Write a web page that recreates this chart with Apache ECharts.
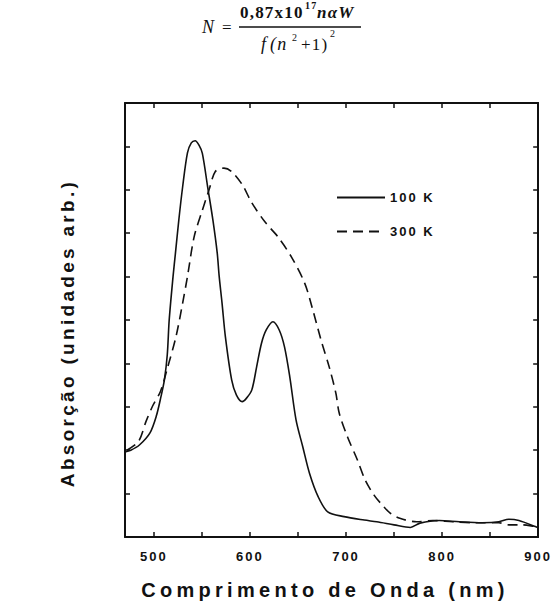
<!DOCTYPE html>
<html>
<head>
<meta charset="utf-8">
<script src="https://cdn.jsdelivr.net/npm/echarts@6.0.0/dist/echarts.min.js"></script>
<style>
  html, body { margin: 0; padding: 0; background: #fff; }
  #main { width: 552px; height: 607px; }
  /* the scanned figure uses widely spaced lettering */
  #main text { letter-spacing: 2px; }
  #main text[style*="20px"] { letter-spacing: 4.3px; }
  #main text[style*="19px"] { letter-spacing: 3.3px; }
  #main text[style*="Liberation Serif"] { letter-spacing: 1.2px; }
</style>
</head>
<body>
<div id="main"></div>
<script>
// wavelength (nm) and absorption (arb. units)
const wl100 = [470, 476, 485, 496, 502.5, 507.5, 511, 514, 516, 520, 522.5, 526, 530, 535, 539, 543, 547, 550.5, 556, 561.5, 566, 568, 571, 574.5, 581, 586, 592, 596.5, 602, 607, 612, 617, 624, 630.5, 636, 641.5, 648, 655, 662, 671, 681, 698, 719, 732, 750, 767, 777, 797, 818, 842, 859, 869.5, 880, 897, 900]
const abs100 = [1.96, 2.00, 2.12, 2.40, 2.78, 3.24, 3.62, 4.20, 5.00, 6.00, 6.54, 7.30, 8.07, 8.85, 9.08, 9.13, 9.03, 8.84, 8.07, 7.30, 6.54, 6.01, 5.39, 4.61, 3.62, 3.27, 3.12, 3.20, 3.39, 3.92, 4.46, 4.77, 4.96, 4.77, 4.38, 3.69, 2.70, 2.08, 1.47, 0.93, 0.58, 0.47, 0.39, 0.35, 0.28, 0.22, 0.32, 0.38, 0.35, 0.33, 0.35, 0.41, 0.38, 0.24, 0.21]

const wl300 = [472, 484, 492, 499, 507, 514.5, 523, 530, 535, 542, 550.5, 557.5, 564, 573, 581, 592, 602, 616, 629, 643, 657, 665.5, 674, 682.5, 689.5, 693, 701.5, 712, 720, 729, 736, 746, 756, 773.5, 790.5, 811, 835, 859, 869.5, 883, 897, 900]
const abs300 = [2.00, 2.20, 2.67, 3.03, 3.36, 3.92, 4.61, 5.39, 6.00, 6.92, 7.53, 8.00, 8.42, 8.50, 8.42, 8.12, 7.70, 7.25, 6.92, 6.46, 5.85, 5.23, 4.54, 3.92, 3.31, 2.85, 2.31, 1.77, 1.31, 0.97, 0.78, 0.55, 0.43, 0.35, 0.38, 0.35, 0.33, 0.33, 0.28, 0.28, 0.24, 0.23]

const seriesNames = ['100 K', '300 K']
const xLabels = [500, 600, 700, 800, 900]
const xTicks = [500, 550, 600, 650, 700, 750, 800, 850, 900]

const ink = '#111'
const sans = 'Liberation Sans'
const serif = 'Liberation Serif'

const pairs = (xs, ys) => xs.map((x, i) => [x, ys[i]])

const frameX = (pos, labels) => ({
  type: 'value',
  position: pos,
  min: 470,
  max: 900,
  axisLine: { show: true, onZero: false, lineStyle: { color: ink, width: 2 } },
  axisTick: { show: true, inside: true, length: 5, customValues: xTicks, lineStyle: { color: ink, width: 1.5 } },
  axisLabel: labels
    ? { customValues: xLabels, margin: 13, fontSize: 13, fontWeight: 'bold', fontFamily: sans, color: ink }
    : { show: false },
  splitLine: { show: false },
})

const frameY = pos => ({
  type: 'value',
  position: pos,
  min: 0,
  max: 10,
  interval: 1,
  axisLine: { show: true, onZero: false, lineStyle: { color: ink, width: 2 } },
  axisTick: { show: true, inside: true, length: 5, lineStyle: { color: ink, width: 1.5 } },
  axisLabel: { show: false },
  splitLine: { show: false },
})

const txt = (x, y, text, size, extra) => ({
  type: 'text',
  x, y,
  style: Object.assign({ text, fill: ink, fontSize: size, fontFamily: serif, align: 'left', verticalAlign: 'middle' }, extra),
})

const chart = echarts.init(document.getElementById('main'), null, { renderer: 'svg' })

chart.setOption({
  animation: false,
  backgroundColor: '#fff',
  grid: { left: 125, right: 9, top: 103, bottom: 70 },
  xAxis: [frameX('bottom', true), frameX('top', false)],
  yAxis: [frameY('left'), frameY('right')],
  legend: {
    data: seriesNames,
    orient: 'vertical',
    left: 331,
    top: 186,
    itemWidth: 48,
    itemHeight: 14,
    itemGap: 21,
    itemStyle: { opacity: 0 },
    selectedMode: false,
    textStyle: { fontSize: 13, fontWeight: 'bold', fontFamily: sans, color: ink },
  },
  series: [
    {
      name: seriesNames[0],
      type: 'line',
      data: pairs(wl100, abs100),
      symbol: 'none',
      smooth: 0.3,
      lineStyle: { color: ink, width: 1.6, type: 'solid' },
      itemStyle: { color: ink },
    },
    {
      name: seriesNames[1],
      type: 'line',
      data: pairs(wl300, abs300),
      symbol: 'none',
      smooth: 0.3,
      lineStyle: { color: ink, width: 1.6, type: [10, 6] },
      itemStyle: { color: ink },
    },
  ],
  graphic: [
    // axis titles
    {
      type: 'text', x: 325, y: 590,
      style: { text: 'Comprimento de Onda (nm)', fill: ink, fontSize: 20, fontWeight: 'bold', fontFamily: sans, align: 'center', verticalAlign: 'middle' },
    },
    {
      type: 'text', x: 67, y: 333, rotation: Math.PI / 2,
      style: { text: 'Absorção (unidades arb.)', fill: ink, fontSize: 19, fontWeight: 'bold', fontFamily: sans, align: 'center', verticalAlign: 'middle' },
    },
    // formula at the top
    txt(202, 27, 'N', 18, { fontStyle: 'italic' }),
    txt(222, 27, '=', 17),
    txt(240, 12, '0,87x10', 17, { fontWeight: 'bold' }),
    txt(305, 5, '17', 10, { fontWeight: 'bold' }),
    txt(317, 12, 'nαW', 17, { fontStyle: 'italic', fontWeight: 'bold' }),
    { type: 'line', shape: { x1: 239, y1: 27, x2: 361, y2: 27 }, style: { stroke: ink, lineWidth: 1.3 } },
    txt(261, 44, 'f', 18, { fontStyle: 'italic' }),
    txt(270, 44, '(n', 18, { fontStyle: 'italic' }),
    txt(292, 37, '2', 10),
    txt(301, 44, '+1)', 17),
    txt(330, 33, '2', 10),
  ],
})
</script>
</body>
</html>
